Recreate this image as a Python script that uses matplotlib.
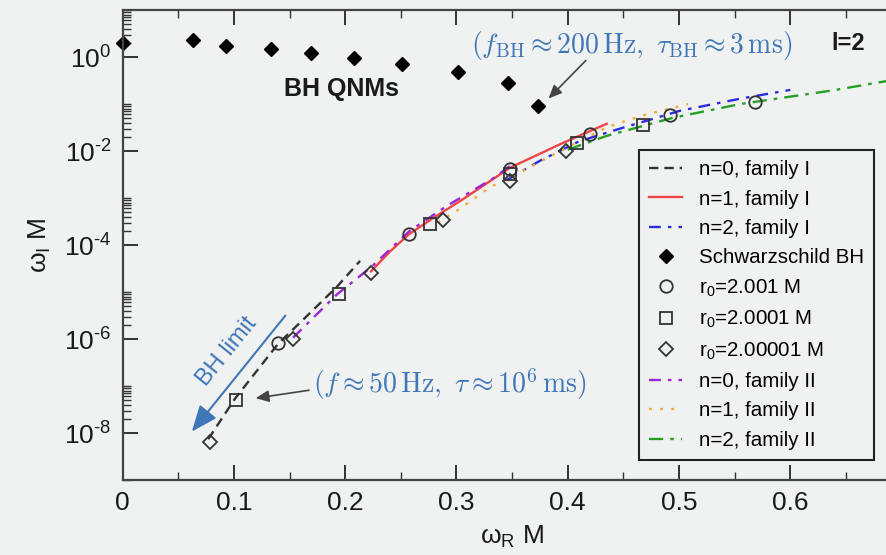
import numpy as np
import matplotlib
matplotlib.use('Agg')
import matplotlib.pyplot as plt
from matplotlib.ticker import FixedLocator, MultipleLocator, FuncFormatter

plt.rcParams['font.family'] = ['Liberation Sans', 'DejaVu Sans']
plt.rcParams['mathtext.fontset'] = 'custom'
plt.rcParams['mathtext.rm'] = 'Liberation Sans'
plt.rcParams['mathtext.it'] = 'Liberation Sans:italic'
plt.rcParams['mathtext.bf'] = 'Liberation Sans:bold'
plt.rcParams['axes.unicode_minus'] = False

bg = '#eff2f1'
blue_txt = '#3f76b8'

# Schwarzschild l=2 QNMs
bh_x = [0.0, 0.0633, 0.0928, 0.1333, 0.1693, 0.2075, 0.2515, 0.3011, 0.3467, 0.3737]
bh_y = [2.0, 2.304, 1.702, 1.448, 1.196, 0.947, 0.705, 0.478, 0.274, 0.089]

# family I
n0I_x = [0.0769, 0.101, 0.1397, 0.168, 0.1926, 0.2134]
n0I_y = [7.4e-9, 5.4e-8, 7.9e-7, 3.5e-6, 1.3e-5, 4.6e-5]
n1I_x = [0.2232, 0.240, 0.2574, 0.2763, 0.306, 0.348, 0.396, 0.435]
n1I_y = [2.75e-5, 7.2e-5, 1.7e-4, 3.4e-4, 9.5e-4, 4.4e-3, 1.5e-2, 3.8e-2]
n2I_x = [0.345, 0.375, 0.41, 0.447, 0.501, 0.555, 0.600]
n2I_y = [2.4e-3, 6.2e-3, 1.6e-2, 3.0e-2, 7.2e-2, 1.3e-1, 2.0e-1]

# family II
n0II_x = [0.1532, 0.1926, 0.2234, 0.258, 0.2914, 0.3328, 0.348]
n0II_y = [1.07e-6, 8.9e-6, 3.4e-5, 2.0e-4, 6.8e-4, 2.6e-3, 4.8e-3]
n1II_x = [0.283, 0.303, 0.330, 0.348, 0.393, 0.435, 0.468, 0.508]
n1II_y = [3.0e-4, 5.9e-4, 1.7e-3, 2.7e-3, 1.0e-2, 3.2e-2, 5.8e-2, 1.0e-1]
n2II_x = [0.400, 0.435, 0.4945, 0.555, 0.638, 0.700]
n2II_y = [1.07e-2, 2.1e-2, 5.1e-2, 1.0e-1, 1.95e-1, 3.5e-1]

# r0 markers
c_x = [0.14, 0.2574, 0.348, 0.42, 0.492, 0.568]
c_y = [8.3e-7, 1.7e-4, 4.2e-3, 2.3e-2, 5.9e-2, 1.1e-1]
s_x = [0.102, 0.1946, 0.276, 0.348, 0.408, 0.468]
s_y = [5.1e-8, 8.9e-6, 2.8e-4, 3.2e-3, 1.5e-2, 3.6e-2]
d_x = [0.0787, 0.153, 0.2232, 0.288, 0.348, 0.398]
d_y = [6.5e-9, 9.8e-7, 2.6e-5, 3.4e-4, 2.3e-3, 1.0e-2]

fig = plt.figure(figsize=(8.86, 5.55), dpi=100, facecolor=bg)
ax = fig.add_axes([0.1384, 0.1351, 0.8792, 0.8468])
ax.set_facecolor(bg)

lw = 1.7
h1, = ax.plot(n0I_x, n0I_y, color='#333333', lw=lw, dashes=(4, 2.5), label='n=0, family I')
h2, = ax.plot(n1I_x, n1I_y, color='#f04545', lw=lw, label='n=1, family I')
h3, = ax.plot(n2I_x, n2I_y, color='#2b2be0', lw=lw, dashes=(5, 3, 1.5, 3), label='n=2, family I')
h7, = ax.plot(n0II_x, n0II_y, color='#9b25d8', lw=lw, dashes=(5, 3, 1.5, 3), label='n=0, family II')
h8, = ax.plot(n1II_x, n1II_y, color='#f2a93b', lw=lw, dashes=(1.2, 3.5), label='n=1, family II')
h9, = ax.plot(n2II_x, n2II_y, color='#25a025', lw=lw, dashes=(6, 3, 1.5, 3), label='n=2, family II')

h4, = ax.plot(bh_x, bh_y, 'D', color='black', ms=7, ls='none', label='Schwarzschild BH', clip_on=False)
mk = dict(ls='none', mfc='none', mec='#333333', mew=1.3)
h5, = ax.plot(c_x, c_y, 'o', ms=9, label='r$_0$=2.001 M', **mk)
h6, = ax.plot(s_x, s_y, 's', ms=8, label='r$_0$=2.0001 M', **mk)
h6b, = ax.plot(d_x, d_y, 'D', ms=7, label='r$_0$=2.00001 M', **mk)

ax.set_yscale('log')
ax.set_xlim(0, 0.7)
ax.set_ylim(1e-9, 1e1)


def xfmt(v, p):
    if abs(v) < 1e-9:
        return '0'
    if v > 0.65:
        return ''
    return f'{v:.1f}'


ax.xaxis.set_major_locator(MultipleLocator(0.1))
ax.xaxis.set_minor_locator(MultipleLocator(0.05))
ax.xaxis.set_major_formatter(FuncFormatter(xfmt))
ax.yaxis.set_major_locator(FixedLocator([1e-8, 1e-6, 1e-4, 1e-2, 1e0]))
minors = [k * 10.0 ** (2 * m) for m in range(-5, 1) for k in range(2, 11)]
ax.yaxis.set_minor_locator(FixedLocator(minors))
ax.yaxis.set_major_formatter(FuncFormatter(lambda v, p: '10$^{\\text{%d}}$' % int(round(np.log10(v)))))
ax.yaxis.set_minor_formatter(FuncFormatter(lambda v, p: ''))

ax.tick_params(which='both', direction='in', top=True, right=False, colors='#333333',
               labelcolor='#1a1a1a', labelsize=19)
ax.tick_params(which='major', length=11, width=1.4, pad=8)
ax.tick_params(which='minor', length=5.5, width=1.0)
for s in ax.spines.values():
    s.set_color('#444444')
    s.set_linewidth(1.6)

ax.set_xlabel('ω$_{\\rm R}$ M', fontsize=19, color='#1a1a1a', labelpad=6)
ax.set_ylabel('ω$_{\\rm I}$ M', fontsize=19, color='#1a1a1a', labelpad=8)

ax.text(0.1963, 0.214, 'BH QNMs', fontsize=18, fontweight='bold', ha='center', va='center', color='#1a1a1a')
ax.text(0.652, 1.96, 'l=2', fontsize=17, fontweight='bold', ha='center', va='center', color='#1a1a1a')

ax.text(0.457, 1.78, r'$(f_{\rm BH} \approx 200\,{\rm Hz},\ \tau_{\rm BH} \approx 3\,{\rm ms})$',
        fontsize=20, color=blue_txt, ha='center', va='center', math_fontfamily='cm')
ax.annotate('', xy=(0.381, 0.119), xytext=(0.418, 0.93),
            arrowprops=dict(arrowstyle='-|>,head_length=0.8,head_width=0.35', color='#444444', lw=1.2))

ax.text(0.171, 1.07e-7, r'$(f \approx 50\,{\rm Hz},\ \tau \approx 10^6\,{\rm ms})$',
        fontsize=20, color=blue_txt, ha='left', va='center', math_fontfamily='cm')
ax.annotate('', xy=(0.117, 5.4e-8), xytext=(0.170, 8.3e-8),
            arrowprops=dict(arrowstyle='-|>,head_length=0.8,head_width=0.35', color='#444444', lw=1.2))

ax.annotate('', xy=(0.0606, 9.6e-9), xytext=(0.1478, 3.5e-6),
            arrowprops=dict(arrowstyle='-|>,head_length=1.6,head_width=0.65', color=blue_txt, lw=1.5))
ax.text(0.094, 5.4e-7, 'BH limit', fontsize=17, color=blue_txt, rotation=51,
        ha='center', va='center', rotation_mode='anchor')

leg = ax.legend(handles=[h1, h2, h3, h4, h5, h6, h6b, h7, h8, h9],
                loc='upper right', bbox_to_anchor=(0.9646, 0.702), borderaxespad=0,
                fontsize=14.8, frameon=True, fancybox=False, edgecolor='#222222',
                facecolor=bg, framealpha=1, handlelength=1.6, labelspacing=0.5,
                borderpad=0.5, handletextpad=0.8)
leg.get_frame().set_linewidth(1.5)

fig.savefig('out.png', dpi=100, facecolor=bg)
